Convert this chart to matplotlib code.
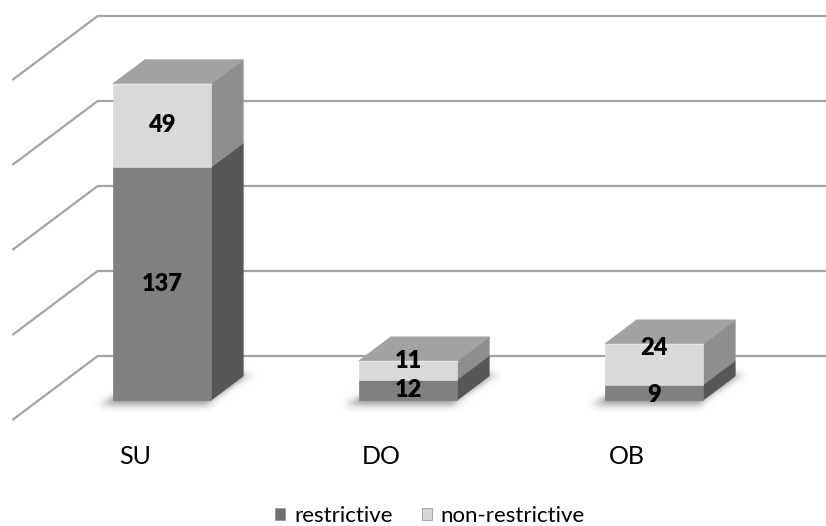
import numpy as np
import matplotlib
matplotlib.use("Agg")
import matplotlib.pyplot as plt
from matplotlib.patches import Polygon, Patch

# ---- data ----
categories = ["SU", "DO", "OB"]
restrictive = [137, 12, 9]
non_restrictive = [49, 11, 24]
series_names = ["restrictive", "non-restrictive"]
value_ticks = [0, 50, 100, 150, 200]

# ---- styling ----
FONT = "Lato"
GRID_COLOR = "#a3a3a3"
FRONT = {"restrictive": "#808080", "non-restrictive": "#d9d9d9"}
SIDE = {"restrictive": "#565656", "non-restrictive": "#8e8e8e"}
TOP = {"restrictive": "#6a6a6a", "non-restrictive": "#a2a2a2"}
LEGEND_FACE = {"restrictive": "#6f6f6f", "non-restrictive": "#d6d6d6"}

W_PX, H_PX, DPI = 826, 526, 100
CAT_PX = 246.0        # pixels between category centres
VAL_PX = 1.7          # pixels per value unit
X0_PX = 162.0         # front centre of first category
Y0_PX = 126.0         # value 0 on the front plane, measured from bottom
DEPTH_DX_PX, DEPTH_DY_PX = 32.0, 24.0   # oblique offset for one bar depth
BAR_W = 0.4
Z_FLOOR_FRONT = -20.0 / 24.0
Z_WALL = 44.0 / 24.0

fig = plt.figure(figsize=(W_PX / DPI, H_PX / DPI), dpi=DPI)
ax = fig.add_axes([0, 0, 1, 1])
ax.set_xlim(-X0_PX / CAT_PX, (W_PX - X0_PX) / CAT_PX)
ax.set_ylim(-Y0_PX / VAL_PX, (H_PX - Y0_PX) / VAL_PX)
ax.axis("off")

DDX = DEPTH_DX_PX / CAT_PX
DDY = DEPTH_DY_PX / VAL_PX


def P(x, v, z):
    """Project a point (category x, value v, depth z) onto the axes."""
    return (x + z * DDX, v + z * DDY)


# ---- soft blur used for the drop shadows ----
class GaussianBlur:
    def __init__(self, sigma_px):
        self.sigma = sigma_px

    def __call__(self, im, dpi):
        pad = int(3 * self.sigma) + 1
        src = np.pad(im, [(pad, pad), (pad, pad), (0, 0)], "constant")
        k = np.arange(-pad, pad + 1)
        w = np.exp(-0.5 * (k / self.sigma) ** 2)
        w /= w.sum()
        tmp = np.zeros_like(src)
        for off, wt in zip(k, w):
            tmp += wt * np.roll(src, off, axis=0)
        out = np.zeros_like(src)
        for off, wt in zip(k, w):
            out += wt * np.roll(tmp, off, axis=1)
        return out, -pad, -pad


# ---- floor / wall gridlines ----
for t in value_ticks:
    pts = [P(-0.5, t, Z_FLOOR_FRONT), P(-0.5, t, Z_WALL), P(2.5, t, Z_WALL)]
    xs, ys = zip(*pts)
    ax.plot(xs, ys, color=GRID_COLOR, lw=1.6, solid_capstyle="butt",
            solid_joinstyle="miter", zorder=1)

# ---- bars ----
label_nudge_px = {("DO", "non-restrictive"): 9, ("OB", "non-restrictive"): 16,
                  ("OB", "restrictive"): -3}

for i, cat in enumerate(categories):
    x0, x1 = i - BAR_W / 2, i + BAR_W / 2

    # shadow under the bar
    shadow = Polygon([P(x0 - 0.035, 0, -0.18), P(x1 + 0.01, 0, -0.18),
                      P(x1 + 0.03, 0, 1.05), P(x0, 0, 1.05)],
                     closed=True, facecolor="black", alpha=0.45,
                     edgecolor="none", zorder=2)
    shadow.set_agg_filter(GaussianBlur(4.0))
    shadow.set_rasterized(True)
    ax.add_patch(shadow)

    segments = [("restrictive", 0, restrictive[i]),
                ("non-restrictive", restrictive[i],
                 restrictive[i] + non_restrictive[i])]
    for name, b, t in segments:
        # right side face
        ax.add_patch(Polygon([P(x1, b, 0), P(x1, t, 0), P(x1, t, 1), P(x1, b, 1)],
                             closed=True, facecolor=SIDE[name],
                             edgecolor=SIDE[name], lw=0.5, zorder=3))
        # front face
        ax.add_patch(Polygon([P(x0, b, 0), P(x1, b, 0), P(x1, t, 0), P(x0, t, 0)],
                             closed=True, facecolor=FRONT[name],
                             edgecolor=FRONT[name], lw=0.5, zorder=4))
        # value label on the front face
        ax.annotate(f"{t - b}", xy=P(i, (b + t) / 2, 0),
                    xytext=(0, label_nudge_px.get((cat, name), 0)),
                    textcoords="offset pixels", ha="center", va="center",
                    fontsize=17, fontweight="heavy", family=FONT,
                    color="black", zorder=6)

    # top face of the stack
    top_name, top_v = segments[-1][0], segments[-1][2]
    ax.add_patch(Polygon([P(x0, top_v, 0), P(x1, top_v, 0),
                          P(x1, top_v, 1), P(x0, top_v, 1)],
                         closed=True, facecolor=TOP[top_name],
                         edgecolor=TOP[top_name], lw=0.5, zorder=5))
    # light highlight along the front top edge
    (ax_, ay_), (bx_, by_) = P(x0, top_v, 0), P(x1, top_v, 0)
    ax.plot([ax_, bx_], [ay_, by_], color="#e6e6e6", lw=1.0, zorder=5)

    # category label along the front edge of the floor
    ax.annotate(cat, xy=P(i, 0, Z_FLOOR_FRONT), xytext=(0, -37),
                textcoords="offset pixels", ha="center", va="center",
                fontsize=18, family=FONT, color="black")

# ---- legend ----
handles = [Patch(facecolor=LEGEND_FACE[n], edgecolor="#9a9a9a", lw=0.6)
           for n in series_names]
fig.legend(handles, series_names, loc="center", ncol=2, frameon=False,
           bbox_to_anchor=(430 / W_PX, 1 - 516 / H_PX),
           prop={"family": FONT, "size": 16},
           handlelength=0.45, handleheight=0.45, handletextpad=0.4,
           columnspacing=1.3)

fig.savefig("out.png", dpi=DPI)
